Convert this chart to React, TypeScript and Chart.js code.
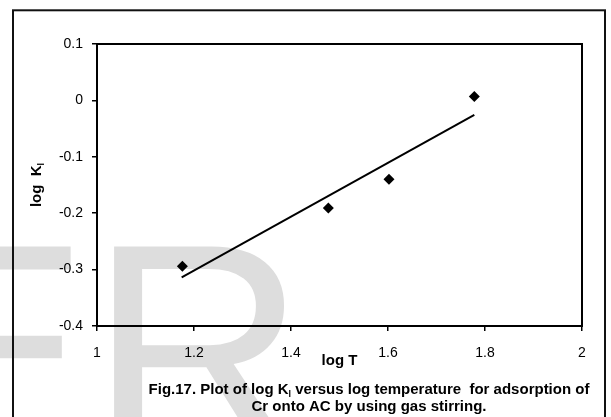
import { useEffect, useRef } from 'react';
import { Chart, registerables } from 'chart.js';

Chart.register(...registerables);

// ---- data ----
const logT = [1.176, 1.477, 1.602, 1.778];
const logKl = [-0.294, -0.191, -0.14, 0.007];
const fitLogT = [1.1746, 1.778];
const fitLogKl = [-0.314, -0.0256];
const xTicks = [1, 1.2, 1.4, 1.6, 1.8, 2];
const yTicks = [-0.4, -0.3, -0.2, -0.1, 0, 0.1];
const xTitle = 'log T';
const yTitleParts = ['log  K', 'l'];
const captionLine1 = ['Fig.17. Plot of log K', 'l', ' versus log temperature  for adsorption of'];
const captionLine2 = ['Cr onto AC by using gas stirring.'];
const watermark = 'ER';

const FONT = '"Liberation Sans", Arial, Helvetica, sans-serif';

function drawRichLine(ctx: CanvasRenderingContext2D, parts: string[], cx: number, baseline: number, size: number) {
  const big = `bold ${size}px ${FONT}`;
  const small = `bold ${Math.round(size * 0.6)}px ${FONT}`;
  const widths = parts.map((p, i) => {
    ctx.font = i % 2 === 1 ? small : big;
    return ctx.measureText(p).width;
  });
  const total = widths.reduce((a, b) => a + b, 0);
  let x = cx - total / 2;
  parts.forEach((p, i) => {
    ctx.font = i % 2 === 1 ? small : big;
    ctx.fillText(p, x, baseline + (i % 2 === 1 ? size * 0.22 : 0));
    x += widths[i];
  });
}

const decor = {
  id: 'decor',
  beforeDraw(chart: any) {
    const ctx: CanvasRenderingContext2D = chart.ctx;
    ctx.save();
    ctx.fillStyle = '#ffffff';
    ctx.fillRect(0, 0, chart.width, chart.height);
    // watermark
    ctx.fillStyle = '#dddddd';
    ctx.font = `300px ${FONT}`;
    ctx.textAlign = 'left';
    ctx.textBaseline = 'alphabetic';
    ctx.fillText(watermark, -110.6, 453);
    // outer frame
    ctx.strokeStyle = '#111111';
    ctx.lineWidth = 2;
    ctx.strokeRect(13, 10.3, 592, 440);
    ctx.restore();
  },
  afterDraw(chart: any) {
    const ctx: CanvasRenderingContext2D = chart.ctx;
    const { left, top, right, bottom } = chart.chartArea;
    ctx.save();
    ctx.strokeStyle = '#000';
    ctx.lineWidth = 2;
    ctx.strokeRect(left, top, right - left, bottom - top);
    ctx.fillStyle = '#000';
    ctx.textAlign = 'left';
    ctx.textBaseline = 'alphabetic';
    // y title rotated
    ctx.save();
    ctx.translate(41, (top + bottom) / 2);
    ctx.rotate(-Math.PI / 2);
    drawRichLine(ctx, yTitleParts, 0, 0, 15);
    ctx.restore();
    // caption
    drawRichLine(ctx, captionLine1, 369, 394, 15);
    drawRichLine(ctx, captionLine2, 369, 411, 15);
    ctx.restore();
  },
};

export default function App() {
  const ref = useRef<HTMLCanvasElement>(null);
  useEffect(() => {
    if (!ref.current) return;
    const chart = new Chart(ref.current, {
      type: 'scatter',
      data: {
        datasets: [
          {
            label: 'log Kl',
            data: logT.map((x, i) => ({ x, y: logKl[i] })),
            pointStyle: 'rectRot',
            pointRadius: 5.5,
            pointBackgroundColor: '#000',
            pointBorderColor: '#000',
            pointBorderWidth: 0,
            showLine: false,
            order: 1,
          },
          {
            label: 'fit',
            data: fitLogT.map((x, i) => ({ x, y: fitLogKl[i] })),
            showLine: true,
            borderColor: '#000',
            borderWidth: 2,
            pointRadius: 0,
            order: 2,
          } as any,
        ],
      },
      options: {
        responsive: false,
        animation: false,
        layout: { padding: { left: 0, top: 44, right: 29, bottom: 0 } },
        plugins: { legend: { display: false }, tooltip: { enabled: false } },
        scales: {
          x: {
            type: 'linear',
            min: 1,
            max: 2,
            afterBuildTicks: (s: any) => {
              s.ticks = xTicks.map((v) => ({ value: v }));
            },
            afterFit: (s: any) => {
              s.height = 91;
            },
            grid: { drawOnChartArea: false, drawTicks: true, tickLength: 5, color: '#000', lineWidth: 1.5 },
            border: { display: true, color: '#000', width: 2 },
            ticks: {
              color: '#000',
              padding: 14,
              maxRotation: 0,
              autoSkip: false,
              font: { family: FONT, size: 14 },
              callback: (v: any) => String(Math.round(Number(v) * 10) / 10),
            },
            title: {
              display: true,
              text: xTitle,
              color: '#000',
              font: { family: FONT, size: 15, weight: 'bold' },
              padding: { top: 0, bottom: 47 },
            },
          },
          y: {
            type: 'linear',
            min: -0.4,
            max: 0.1,
            afterBuildTicks: (s: any) => {
              s.ticks = yTicks.map((v) => ({ value: v }));
            },
            afterFit: (s: any) => {
              s.width = 97;
            },
            grid: { drawOnChartArea: false, drawTicks: true, tickLength: 5, color: '#000', lineWidth: 1.5 },
            border: { display: true, color: '#000', width: 2 },
            ticks: {
              color: '#000',
              padding: 9,
              autoSkip: false,
              font: { family: FONT, size: 14 },
              callback: (v: any) => String(Math.round(Number(v) * 10) / 10),
            },
          },
        },
      },
      plugins: [decor],
    });
    return () => chart.destroy();
  }, []);
  return (
    <div style={{ position: 'fixed', left: 0, top: 0, width: 611, height: 417 }}>
      <canvas ref={ref} width={611} height={417} style={{ display: 'block', width: 611, height: 417 }} />
    </div>
  );
}
